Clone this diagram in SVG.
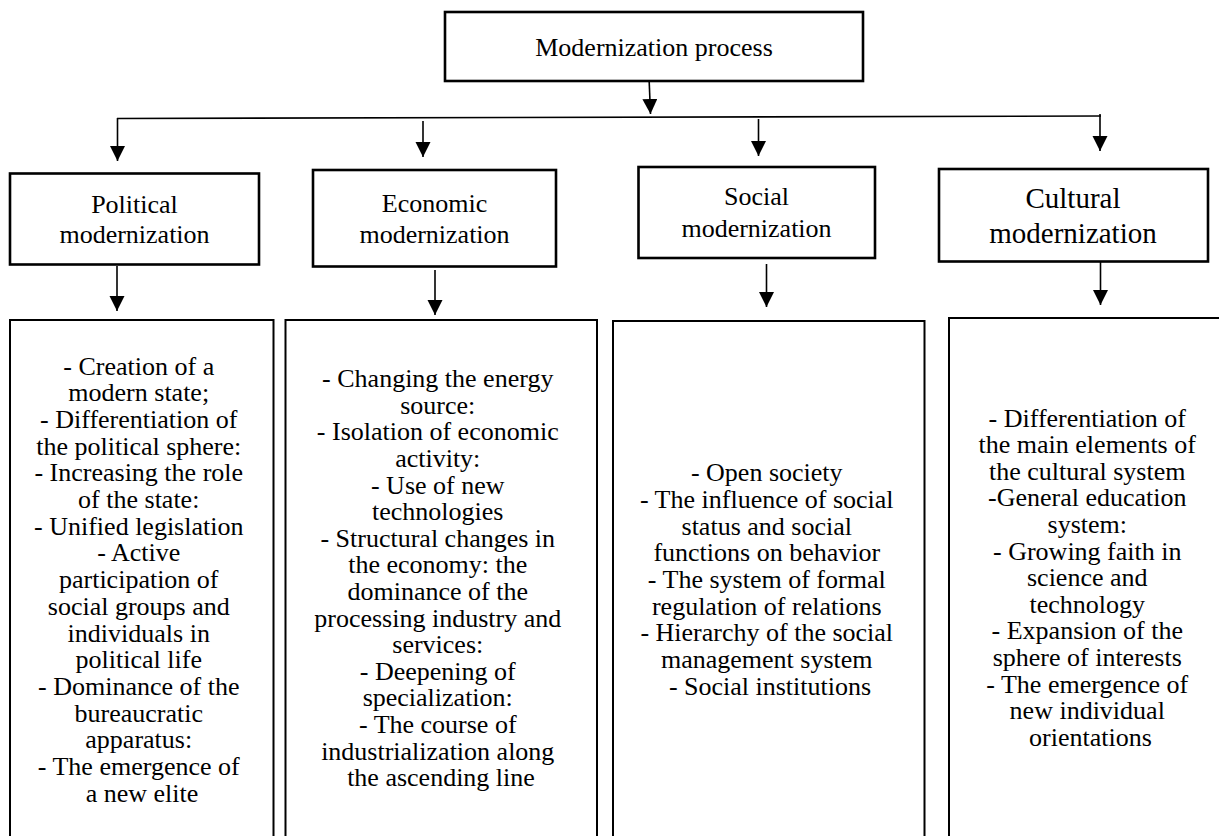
<svg xmlns="http://www.w3.org/2000/svg" width="1219" height="836" viewBox="0 0 1219 836">
<defs>
<marker id="ah" markerUnits="userSpaceOnUse" markerWidth="16" markerHeight="16" viewBox="0 0 16 16" refX="15" refY="7.5" orient="auto">
<path d="M0,0 L15,7.5 L0,15 z" fill="#000"/>
</marker>
<style>
.box{fill:#fff;stroke:#000;stroke-width:2.6}
.lbox{fill:#fff;stroke:#000;stroke-width:2}
text{font-family:"Liberation Serif","Times New Roman",Times,Tinos,"Noto Serif","DejaVu Serif",FreeSerif,"Nimbus Roman",serif;fill:#000;text-anchor:middle}
.t{font-size:26px}
.tc{font-size:29px}
.c{stroke:#000;stroke-width:1.6;fill:none}
.a{stroke:#000;stroke-width:1.6;fill:none;marker-end:url(#ah)}
</style>
</defs>
<rect width="1219" height="836" fill="#fff"/>

<g id="connectors">
<line class="c" x1="117" y1="118.5" x2="1101" y2="116"/>
<line class="a" x1="649" y1="77" x2="650.5" y2="114"/>
<line class="a" x1="117.5" y1="118" x2="117.5" y2="161"/>
<line class="a" x1="423" y1="121" x2="423" y2="157"/>
<line class="a" x1="758.5" y1="119" x2="758.5" y2="156"/>
<line class="a" x1="1100" y1="114" x2="1100" y2="151"/>
<line class="a" x1="117" y1="266" x2="117" y2="311"/>
<line class="a" x1="435" y1="270" x2="435" y2="315"/>
<line class="a" x1="766.5" y1="264" x2="766.5" y2="307"/>
<line class="a" x1="1100.5" y1="262" x2="1100.5" y2="305"/>
</g>

<g id="top">
<rect class="box" x="445" y="12" width="418" height="69" stroke-width="3"/>
<text class="t" x="654" y="56" font-size="26.5">Modernization process</text>
</g>

<g id="political">
<rect class="box" x="10" y="173.5" width="249" height="91"/>
<text class="t" x="134.5" y="213">Political</text>
<text class="t" x="134.5" y="243">modernization</text>
</g>

<g id="economic">
<rect class="box" x="313" y="170" width="243" height="96.5"/>
<text class="t" x="434.5" y="211.5">Economic</text>
<text class="t" x="434.5" y="243">modernization</text>
</g>

<g id="social">
<rect class="box" x="638.5" y="167" width="236.5" height="91"/>
<text class="t" x="756.5" y="205">Social</text>
<text class="t" x="756.5" y="237">modernization</text>
</g>

<g id="cultural">
<rect class="box" x="939" y="169" width="269" height="92.5"/>
<text class="tc" x="1073" y="207.5">Cultural</text>
<text class="tc" x="1073" y="242.5">modernization</text>
</g>

<g id="political-list">
<rect class="lbox" x="10" y="320" width="263.5" height="530"/>
<text class="t" x="142">
<tspan x="142" y="374.5">- Creation of a</tspan>
<tspan x="142" dy="26.7">modern state;</tspan>
<tspan x="142" dy="26.7">- Differentiation of</tspan>
<tspan x="142" dy="26.7">the political sphere:</tspan>
<tspan x="142" dy="26.7">- Increasing the role</tspan>
<tspan x="142" dy="26.7">of the state:</tspan>
<tspan x="142" dy="26.7">- Unified legislation</tspan>
<tspan x="142" dy="26.7">- Active</tspan>
<tspan x="142" dy="26.7">participation of</tspan>
<tspan x="142" dy="26.7">social groups and</tspan>
<tspan x="142" dy="26.7">individuals in</tspan>
<tspan x="142" dy="26.7">political life</tspan>
<tspan x="142" dy="26.7">- Dominance of the</tspan>
<tspan x="142" dy="26.7">bureaucratic</tspan>
<tspan x="142" dy="26.7">apparatus:</tspan>
<tspan x="142" dy="26.7">- The emergence of</tspan>
<tspan x="142" dy="26.7">a new elite</tspan>
</text>
</g>

<g id="economic-list">
<rect class="lbox" x="285.5" y="320" width="311.5" height="530"/>
<text class="t" x="441">
<tspan x="441" y="387.2">- Changing the energy</tspan>
<tspan x="441" dy="26.6">source:</tspan>
<tspan x="441" dy="26.6">- Isolation of economic</tspan>
<tspan x="441" dy="26.6">activity:</tspan>
<tspan x="441" dy="26.6">- Use of new</tspan>
<tspan x="441" dy="26.6">technologies</tspan>
<tspan x="441" dy="26.6">- Structural changes in</tspan>
<tspan x="441" dy="26.6">the economy: the</tspan>
<tspan x="441" dy="26.6">dominance of the</tspan>
<tspan x="441" dy="26.6">processing industry and</tspan>
<tspan x="441" dy="26.6">services:</tspan>
<tspan x="441" dy="26.6">- Deepening of</tspan>
<tspan x="441" dy="26.6">specialization:</tspan>
<tspan x="441" dy="26.6">- The course of</tspan>
<tspan x="441" dy="26.6">industrialization along</tspan>
<tspan x="441" dy="26.6">the ascending line</tspan>
</text>
</g>

<g id="social-list">
<rect class="lbox" x="613" y="321" width="311.5" height="530"/>
<text class="t" x="770">
<tspan x="770" y="481.2">- Open society</tspan>
<tspan x="770" dy="26.7">- The influence of social</tspan>
<tspan x="770" dy="26.7">status and social</tspan>
<tspan x="770" dy="26.7">functions on behavior</tspan>
<tspan x="770" dy="26.7">- The system of formal</tspan>
<tspan x="770" dy="26.7">regulation of relations</tspan>
<tspan x="770" dy="26.7">- Hierarchy of the social</tspan>
<tspan x="770" dy="26.7">management system</tspan>
<tspan x="770" dy="26.7">- Social institutions</tspan>
</text>
</g>

<g id="cultural-list">
<rect class="lbox" x="949" y="318" width="290" height="540"/>
<text class="t" x="1090.5">
<tspan x="1090.5" y="426.5">- Differentiation of</tspan>
<tspan x="1090.5" dy="26.6">the main elements of</tspan>
<tspan x="1090.5" dy="26.6">the cultural system</tspan>
<tspan x="1090.5" dy="26.6">-General education</tspan>
<tspan x="1090.5" dy="26.6">system:</tspan>
<tspan x="1090.5" dy="26.6">- Growing faith in</tspan>
<tspan x="1090.5" dy="26.6">science and</tspan>
<tspan x="1090.5" dy="26.6">technology</tspan>
<tspan x="1090.5" dy="26.6">- Expansion of the</tspan>
<tspan x="1090.5" dy="26.6">sphere of interests</tspan>
<tspan x="1090.5" dy="26.6">- The emergence of</tspan>
<tspan x="1090.5" dy="26.6">new individual</tspan>
<tspan x="1090.5" dy="26.6">orientations</tspan>
</text>
</g>
</svg>
